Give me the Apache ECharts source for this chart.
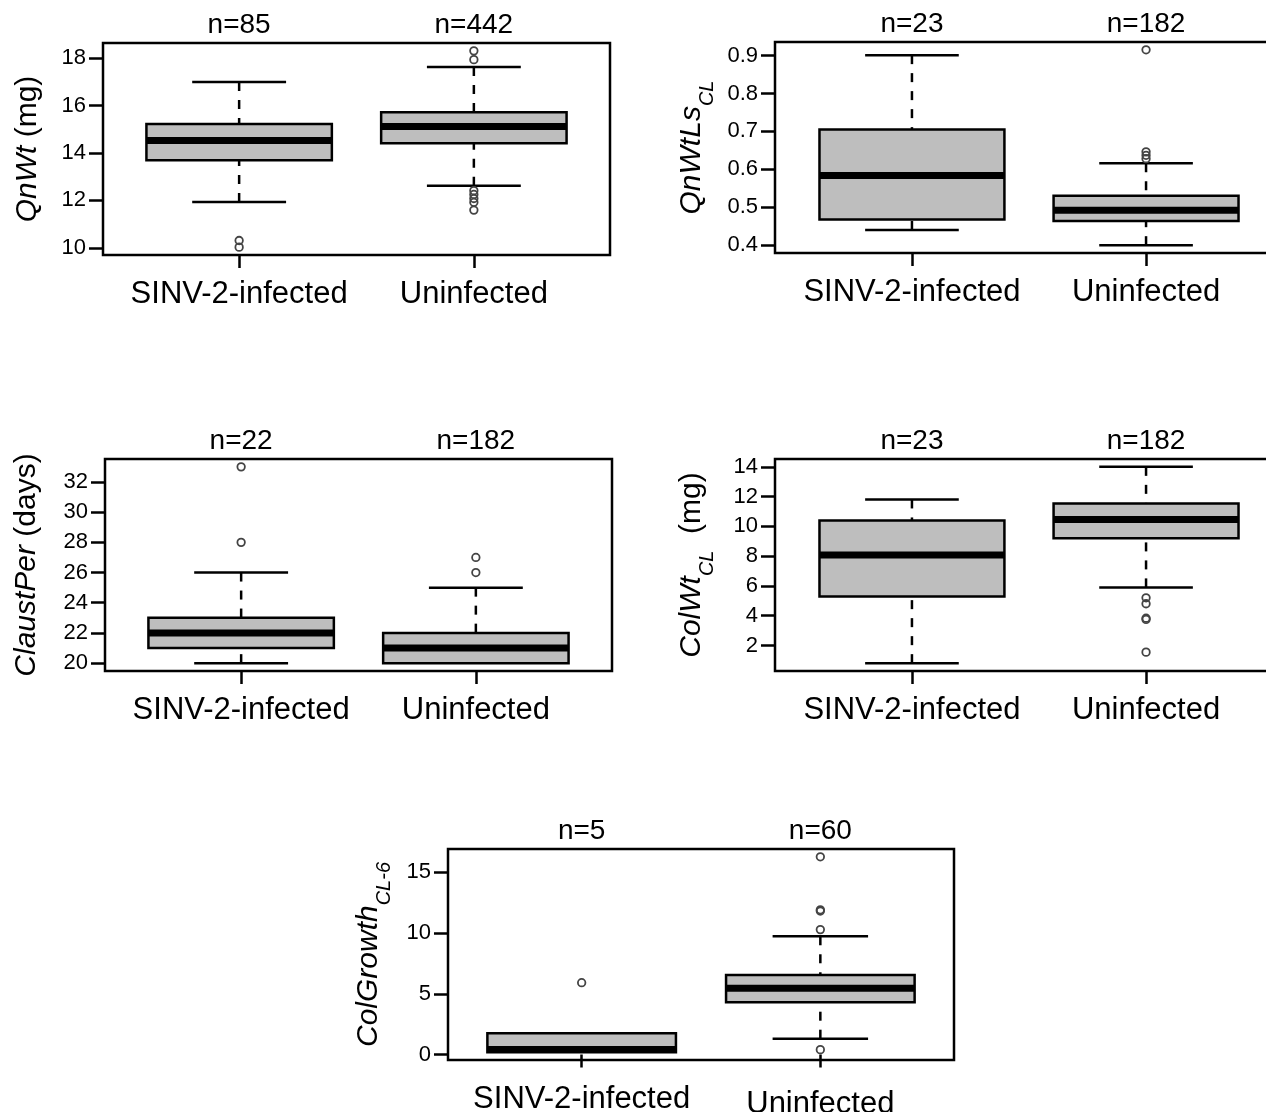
<!DOCTYPE html>
<html><head><meta charset="utf-8">
<script src="https://cdn.jsdelivr.net/npm/echarts@6/dist/echarts.min.js"></script>
<style>html,body{margin:0;padding:0;background:#fff}#c{width:1266px;height:1112px}</style>
</head><body><div id="c"></div>
<script>
// ---------- DATA (box stats: lower whisker, Q1, median, Q3, upper whisker) ----------
const categories = ['SINV-2-infected', 'Uninfected'];

const qnwtN = [85, 442];
const qnwtSinv = [11.93, 13.69, 14.52, 15.22, 16.99];
const qnwtUninf = [12.62, 14.41, 15.11, 15.71, 17.62];
const qnwtOutSinv = [10.31, 10.03];
const qnwtOutUninf = [18.30, 17.93, 12.41, 12.25, 12.08, 11.92, 11.59];
const qnwtTicks = [10, 12, 14, 16, 18];

const qnwtlsN = [23, 182];
const qnwtlsSinv = [0.440, 0.468, 0.584, 0.705, 0.901];
const qnwtlsUninf = [0.400, 0.464, 0.492, 0.530, 0.616];
const qnwtlsOutSinv = [];
const qnwtlsOutUninf = [0.915, 0.646, 0.637, 0.628];
const qnwtlsTicks = [0.4, 0.5, 0.6, 0.7, 0.8, 0.9];

const claustN = [22, 182];
const claustSinv = [20, 21, 22, 23, 26];
const claustUninf = [20, 20, 21, 22, 25];
const claustOutSinv = [33, 28];
const claustOutUninf = [27, 26];
const claustTicks = [20, 22, 24, 26, 28, 30, 32];

const colwtN = [23, 182];
const colwtSinv = [0.81, 5.29, 8.07, 10.40, 11.81];
const colwtUninf = [5.90, 9.21, 10.46, 11.54, 14.00];
const colwtOutSinv = [];
const colwtOutUninf = [5.20, 4.80, 3.83, 3.75, 1.55];
const colwtTicks = [2, 4, 6, 8, 10, 12, 14];

const growthN = [5, 60];
const growthSinv = [0.20, 0.20, 0.42, 1.75, 1.75];
const growthUninf = [1.31, 4.31, 5.46, 6.55, 9.74];
const growthOutSinv = [5.92];
const growthOutUninf = [16.28, 11.92, 11.82, 10.29, 0.41];
const growthTicks = [0, 5, 10, 15];

// ---------- LAYOUT ----------
const FONT = '"Liberation Sans", Arial, Helvetica, sans-serif';
const panels = [
  { n: qnwtN, stats: [qnwtSinv, qnwtUninf], out: [qnwtOutSinv, qnwtOutUninf], ticks: qnwtTicks, dec: 0,
    title: '{i|QnWt} {r|(mg)}', grid: { left: 103, top: 43, width: 507, height: 212 }, xlim: [0.42, 2.58], nameGap: 56 },
  { n: qnwtlsN, stats: [qnwtlsSinv, qnwtlsUninf], out: [qnwtlsOutSinv, qnwtlsOutUninf], ticks: qnwtlsTicks, dec: 1,
    title: '{i|QnWtLs}{s|CL}', grid: { left: 775, top: 42, width: 508, height: 211 }, xlim: [0.415, 2.585], nameGap: 64 },
  { n: claustN, stats: [claustSinv, claustUninf], out: [claustOutSinv, claustOutUninf], ticks: claustTicks, dec: 0,
    title: '{i|ClaustPer} {r|(days)}', grid: { left: 105, top: 459, width: 507, height: 212 }, xlim: [0.42, 2.58], nameGap: 59 },
  { n: colwtN, stats: [colwtSinv, colwtUninf], out: [colwtOutSinv, colwtOutUninf], ticks: colwtTicks, dec: 0,
    title: '{i|ColWt}{s|CL}{r|  (mg)}', grid: { left: 775, top: 459, width: 508, height: 212 }, xlim: [0.415, 2.585], nameGap: 64 },
  { n: growthN, stats: [growthSinv, growthUninf], out: [growthOutSinv, growthOutUninf], ticks: growthTicks, dec: 0,
    title: '{i|ColGrowth}{s|CL-6}', grid: { left: 448, top: 849, width: 506, height: 211 }, xlim: [0.44, 2.56], nameGap: 60, lowerUninf: true }
];

const BOX_HALF = 0.395, CAP_HALF = 0.2;
const BLACK = '#000';

function rangeOf(p) {
  const vals = [].concat(p.stats[0], p.stats[1], p.out[0], p.out[1]);
  const lo = Math.min(...vals), hi = Math.max(...vals), d = (hi - lo) * 0.04;
  return [lo - d, hi + d];
}

function renderBox(params, api) {
  const x = api.value(0);
  const lo = api.value(1), q1 = api.value(2), med = api.value(3), q3 = api.value(4), hi = api.value(5);
  const c = (a, b) => api.coord([a, b]);
  const pLo = c(x, lo), pQ1 = c(x, q1), pQ3 = c(x, q3), pHi = c(x, hi);
  const bl = c(x - BOX_HALF, q3), br = c(x + BOX_HALF, q1);
  const ml = c(x - BOX_HALF, med), mr = c(x + BOX_HALF, med);
  const cl1 = c(x - CAP_HALF, hi), cr1 = c(x + CAP_HALF, hi);
  const cl2 = c(x - CAP_HALF, lo), cr2 = c(x + CAP_HALF, lo);
  const children = [];
  if (hi > q3) {
    children.push({ type: 'line', shape: { x1: pHi[0], y1: pHi[1], x2: pQ3[0], y2: pQ3[1] },
      style: { stroke: BLACK, lineWidth: 2.5, lineDash: [9, 9] } });
    children.push({ type: 'line', shape: { x1: cl1[0], y1: cl1[1], x2: cr1[0], y2: cr1[1] },
      style: { stroke: BLACK, lineWidth: 2.5 } });
  }
  if (lo < q1) {
    children.push({ type: 'line', shape: { x1: pLo[0], y1: pLo[1], x2: pQ1[0], y2: pQ1[1] },
      style: { stroke: BLACK, lineWidth: 2.5, lineDash: [9, 9] } });
    children.push({ type: 'line', shape: { x1: cl2[0], y1: cl2[1], x2: cr2[0], y2: cr2[1] },
      style: { stroke: BLACK, lineWidth: 2.5 } });
  }
  children.push({ type: 'rect', shape: { x: bl[0], y: bl[1], width: br[0] - bl[0], height: br[1] - bl[1] },
    style: { fill: '#bebebe', stroke: BLACK, lineWidth: 2.5 } });
  children.push({ type: 'line', shape: { x1: ml[0], y1: ml[1], x2: mr[0], y2: mr[1] },
    style: { stroke: BLACK, lineWidth: 7, lineCap: 'butt' } });
  return { type: 'group', children };
}

const richTitle = {
  i: { fontStyle: 'italic', fontSize: 30, fontFamily: FONT, color: BLACK, verticalAlign: 'top', lineHeight: 34 },
  r: { fontSize: 30, fontFamily: FONT, color: BLACK, verticalAlign: 'top', lineHeight: 34 },
  s: { fontStyle: 'italic', fontSize: 20, fontFamily: FONT, color: BLACK, verticalAlign: 'top', lineHeight: 20, padding: [20, 0, 0, 0] }
};

const option = { animation: false, backgroundColor: '#fff', grid: [], xAxis: [], yAxis: [], series: [] };

panels.forEach((p, i) => {
  const yr = rangeOf(p);
  option.grid.push(Object.assign({ show: true, borderColor: BLACK, borderWidth: 2.5, containLabel: false, outerBoundsMode: 'none' }, p.grid));
  const catFormatter = (v) => {
    const name = categories[Math.round(v) - 1];
    if (p.lowerUninf) return Math.round(v) === 2 ? '{b|' + name + '}' : '{a|' + name + '}';
    return name;
  };
  option.xAxis.push({
    type: 'value', gridIndex: i, min: p.xlim[0], max: p.xlim[1], position: 'bottom',
    axisLine: { show: false }, splitLine: { show: false },
    axisTick: { show: true, customValues: [1, 2], length: 13, lineStyle: { color: BLACK, width: 2.5 } },
    axisLabel: { customValues: [1, 2], formatter: catFormatter, fontSize: 31, fontFamily: FONT, color: BLACK, margin: 24,
      rich: { a: { fontSize: 31, fontFamily: FONT, color: BLACK }, b: { fontSize: 31, fontFamily: FONT, color: BLACK, padding: [5, 0, 0, 0] } } }
  });
  option.xAxis.push({
    type: 'value', gridIndex: i, min: p.xlim[0], max: p.xlim[1], position: 'top',
    axisLine: { show: false }, splitLine: { show: false }, axisTick: { show: false },
    axisLabel: { customValues: [1, 2], formatter: (v) => 'n=' + p.n[Math.round(v) - 1], fontSize: 28, fontFamily: FONT, color: BLACK, margin: 4 }
  });
  option.yAxis.push({
    type: 'value', gridIndex: i, min: yr[0], max: yr[1],
    axisLine: { show: false }, splitLine: { show: false },
    axisTick: { show: true, customValues: p.ticks, length: 14, lineStyle: { color: BLACK, width: 2.5 } },
    axisLabel: { customValues: p.ticks, formatter: (v) => v.toFixed(p.dec), fontSize: 22, fontFamily: FONT, color: BLACK, margin: 17 },
    name: p.title, nameLocation: 'middle', nameRotate: 90, nameGap: p.nameGap,
    nameTextStyle: { fontSize: 30, fontFamily: FONT, color: BLACK, rich: richTitle }
  });
  option.series.push({
    type: 'custom', xAxisIndex: 2 * i, yAxisIndex: i, silent: true, clip: false,
    data: p.stats.map((s, k) => [k + 1].concat(s)), encode: { x: 0, y: [1, 2, 3, 4, 5] },
    renderItem: renderBox, z: 2
  });
  const pts = [];
  p.out.forEach((arr, k) => arr.forEach(v => pts.push([k + 1, v])));
  option.series.push({
    type: 'scatter', xAxisIndex: 2 * i, yAxisIndex: i, silent: true, z: 5,
    symbol: 'circle', symbolSize: 7.5,
    itemStyle: { color: 'rgba(0,0,0,0)', borderColor: '#444', borderWidth: 1.8, opacity: 1 },
    data: pts
  });
});

const chart = echarts.init(document.getElementById('c'), null, { renderer: 'canvas' });
chart.setOption(option);
</script>
</body></html>
